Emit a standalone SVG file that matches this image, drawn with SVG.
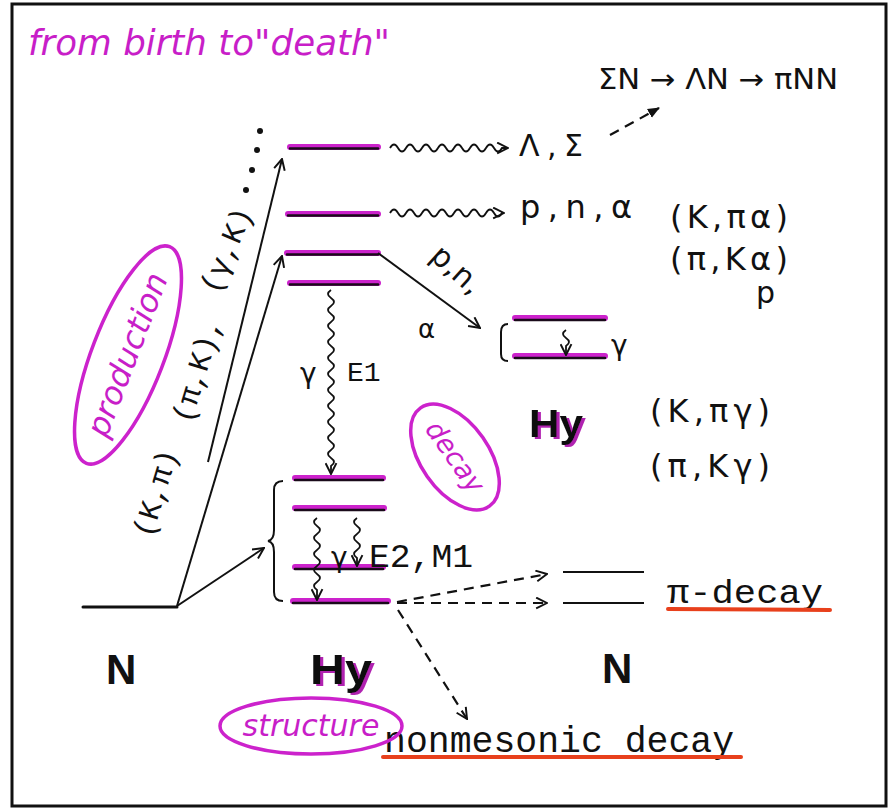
<svg xmlns="http://www.w3.org/2000/svg" width="894" height="811" viewBox="0 0 894 811">
<style>
.frame{fill:#fff;stroke:#111;stroke-width:3}
.mag{fill:#c81ec8;font-family:"DejaVu Sans","Liberation Sans",sans-serif;font-style:italic}
.ell{fill:none;stroke:#cc22cc;stroke-width:3.5}
.lvl-m{stroke:#cc22cc;stroke-width:6;stroke-linecap:round}
.lvl-k{stroke:#1a0a1a;stroke-width:2.5;stroke-linecap:round}
.ln{fill:none;stroke:#111;stroke-width:2}
.wave{fill:none;stroke:#111;stroke-width:1.8}
.dash{fill:none;stroke:#111;stroke-width:2.2;stroke-dasharray:10 7}
.mono{font-family:"Liberation Mono","DejaVu Sans Mono",monospace;fill:#111}
.sans{font-family:"DejaVu Sans","Liberation Sans",sans-serif;fill:#111}
.bold{font-family:"Liberation Sans",Arial,sans-serif;font-weight:bold;fill:#111}
.red{stroke:#e8401c;stroke-width:4;stroke-linecap:round}
</style>
<defs>
<marker id="ah" viewBox="0 0 12 12" refX="11" refY="6" markerWidth="13" markerHeight="13" markerUnits="userSpaceOnUse" orient="auto"><path d="M1 1 L11 6 L1 11" fill="none" stroke="#111" stroke-width="1.8"/></marker>
<marker id="af" viewBox="0 0 12 12" refX="11" refY="6" markerWidth="12" markerHeight="12" markerUnits="userSpaceOnUse" orient="auto"><path d="M0 1 L12 6 L0 11 Z" fill="#111"/></marker>
<filter id="sh" x="-10%" y="-10%" width="130%" height="130%">
<feFlood flood-color="#b020b0"/><feComposite in2="SourceAlpha" operator="in"/><feOffset dx="2.5" dy="2"/>
<feMerge><feMergeNode/><feMergeNode in="SourceGraphic"/></feMerge>
</filter>
</defs>
<rect class="frame" x="12" y="4" width="874" height="802"/>
<text class="mag" x="28" y="55" font-size="36" textLength="362" lengthAdjust="spacingAndGlyphs">from birth to"death"</text>

<g id="levels-hy-upper">
<line class="lvl-m" x1="290" y1="147" x2="378" y2="147"/><line class="lvl-k" x1="290" y1="148.5" x2="378" y2="148.5"/>
<line class="lvl-m" x1="288" y1="214" x2="378" y2="214"/><line class="lvl-k" x1="288" y1="215.5" x2="378" y2="215.5"/>
<line class="lvl-m" x1="287" y1="253" x2="378" y2="253"/><line class="lvl-k" x1="287" y1="254.5" x2="378" y2="254.5"/>
<line class="lvl-m" x1="290" y1="283" x2="378" y2="283"/><line class="lvl-k" x1="290" y1="284.5" x2="378" y2="284.5"/>
</g>
<g id="levels-hy-lower">
<line class="lvl-m" x1="295" y1="478" x2="383" y2="478"/><line class="lvl-k" x1="295" y1="480" x2="383" y2="480"/>
<line class="lvl-m" x1="295" y1="508" x2="384" y2="508"/><line class="lvl-k" x1="295" y1="510" x2="384" y2="510"/>
<line class="lvl-m" x1="295" y1="567" x2="383" y2="567"/><line class="lvl-k" x1="295" y1="569" x2="383" y2="569"/>
<line class="lvl-m" x1="293" y1="601" x2="388" y2="601"/><line class="lvl-k" x1="293" y1="603" x2="388" y2="603"/>
<path class="ln" d="M283 481 Q274 481 274 490 L274 530 Q274 540 268 541 Q274 542 274 552 L274 592 Q274 601 283 601"/>
</g>
<g id="levels-hy-small">
<line class="lvl-m" x1="515" y1="318" x2="605" y2="318"/><line class="lvl-k" x1="515" y1="320" x2="605" y2="320"/>
<line class="lvl-m" x1="515" y1="356" x2="605" y2="356"/><line class="lvl-k" x1="515" y1="358" x2="605" y2="358"/>
<path class="ln" d="M508 324 Q501 324 501 332 L501 354 Q501 361 508 361"/>
<text class="sans" x="611" y="355" font-size="28">γ</text>
</g>
<g id="levels-n">
<line stroke="#111" stroke-width="3" stroke-linecap="round" x1="83" y1="607" x2="177" y2="607"/>
<line stroke="#111" stroke-width="2" x1="563" y1="572" x2="644" y2="572"/>
<line stroke="#111" stroke-width="2" x1="563" y1="603" x2="644" y2="603"/>
</g>

<g id="connectors">
<line class="ln" x1="177" y1="606" x2="282" y2="256" marker-end="url(#ah)"/>
<line class="ln" x1="208" y1="462" x2="282" y2="159" marker-end="url(#ah)"/>
<line class="ln" x1="177" y1="606" x2="264" y2="548" marker-end="url(#ah)"/>
<line class="ln" x1="378" y1="253" x2="480" y2="328" marker-end="url(#ah)"/>
<path class="wave" d="M390 148 q4 -7 8 0 t8 0 t8 0 t8 0 t8 0 t8 0 t8 0 t8 0 t8 0 t8 0 t8 0 t8 0 t8 0 t8 0 l6 0" marker-end="url(#ah)"/>
<path class="wave" d="M390 213 q4 -7 8 0 t8 0 t8 0 t8 0 t8 0 t8 0 t8 0 t8 0 t8 0 t8 0 t8 0 t8 0 t8 0 t8 0 l2 0" marker-end="url(#ah)"/>
<path class="wave" d="M331 290 q-6 4 0 8 t0 8 t0 8 t0 8 t0 8 t0 8 t0 8 t0 8 t0 8 t0 8 t0 8 t0 8 t0 8 t0 8 t0 8 t0 8 t0 8 t0 8 t0 8 t0 8 t0 8 t0 8 l0 8" marker-end="url(#ah)"/>
<path class="wave" d="M317 518 q-6 4 0 8 t0 8 t0 8 t0 8 t0 8 t0 8 t0 8 t0 8 t0 8 l0 10" marker-end="url(#ah)"/>
<path class="wave" d="M357 518 q-6 4 0 8 t0 8 t0 8 t0 8 t0 8 l0 8" marker-end="url(#ah)"/>
<path class="wave" d="M566 330 q-6 4 0 8 t0 8 l0 9" marker-end="url(#ah)"/>
<line class="dash" x1="397" y1="602" x2="547" y2="574" marker-end="url(#ah)"/>
<line class="dash" x1="397" y1="603" x2="547" y2="603" marker-end="url(#ah)"/>
<line class="dash" x1="398" y1="610" x2="467" y2="719" marker-end="url(#ah)"/>
<line class="dash" x1="610" y1="135" x2="659" y2="108" marker-end="url(#af)"/>
<g fill="#111"><circle cx="260" cy="131" r="3"/><circle cx="257" cy="150" r="3"/><circle cx="252" cy="170" r="3"/><circle cx="246" cy="190" r="3"/></g>
</g>

<g id="labels">
<text class="sans" x="598" y="89" font-size="28" textLength="240" lengthAdjust="spacingAndGlyphs">ΣN → ΛN → πNN</text>
<text class="sans" x="519" y="156" font-size="30" textLength="64" lengthAdjust="spacing">Λ,Σ</text>
<text class="sans" x="520" y="218" font-size="32" textLength="112" lengthAdjust="spacing">p,n,α</text>
<text class="sans" x="670" y="228" font-size="32" textLength="118" lengthAdjust="spacing">(K,πα)</text>
<text class="sans" x="670" y="270" font-size="32" textLength="118" lengthAdjust="spacing">(π,Kα)</text>
<text class="sans" x="756" y="303" font-size="30">p</text>
<text class="sans" x="650" y="422" font-size="32" textLength="120" lengthAdjust="spacing">(K,πγ)</text>
<text class="sans" x="650" y="477" font-size="32" textLength="120" lengthAdjust="spacing">(π,Kγ)</text>
<text class="sans" x="300" y="383" font-size="28">γ</text>
<text class="mono" x="347" y="381" font-size="28">E1</text>
<text class="sans" x="331" y="567" font-size="28">γ</text>
<text class="mono" x="369" y="567" font-size="34" textLength="104" lengthAdjust="spacingAndGlyphs">E2,M1</text>
<text class="mono" x="667" y="603" font-size="34" textLength="156" lengthAdjust="spacingAndGlyphs">π-decay</text>
<line class="red" x1="668" y1="609" x2="830" y2="610"/>
<text class="mono" x="384" y="752" font-size="36" textLength="350" lengthAdjust="spacingAndGlyphs">nonmesonic decay</text>
<line class="red" x1="383" y1="757" x2="741" y2="757"/>
<text class="mono" font-size="30" transform="translate(155 493) rotate(-73)" text-anchor="middle" dy="10">(K,π)</text>
<text class="mono" font-size="30" transform="translate(197 370) rotate(-73)" text-anchor="middle" dy="10">(π,K),</text>
<text class="mono" font-size="30" transform="translate(226 250) rotate(-67)" text-anchor="middle" dy="10">(γ,K)</text>
<text class="sans" font-size="30" transform="translate(450 277) rotate(42)" text-anchor="middle">p,n,</text>
<text class="sans" font-size="26" x="418" y="338">α</text>
<text class="bold" x="529" y="437" font-size="38" textLength="54" lengthAdjust="spacingAndGlyphs" filter="url(#sh)">Hy</text>
<text class="bold" x="106" y="684" font-size="42">N</text>
<text class="bold" x="310" y="684" font-size="43" textLength="62" lengthAdjust="spacingAndGlyphs" filter="url(#sh)">Hy</text>
<text class="bold" x="602" y="683" font-size="42">N</text>
</g>

<g id="tag-production">
<ellipse class="ell" cx="128" cy="355" rx="116" ry="36" transform="rotate(-69 128 355)"/>
<text class="mag" font-size="32" text-anchor="middle" transform="translate(128 355) rotate(-69)" dy="10">production</text>
</g>
<g id="tag-decay">
<ellipse class="ell" cx="455" cy="457" rx="60" ry="34" transform="rotate(55 455 457)"/>
<text class="mag" font-size="27" text-anchor="middle" transform="translate(455 457) rotate(55)" dy="9">decay</text>
</g>
<g id="tag-structure">
<ellipse class="ell" cx="311" cy="726" rx="91" ry="28"/>
<text class="mag" x="311" y="736" font-size="30" text-anchor="middle">structure</text>
</g>
</svg>
